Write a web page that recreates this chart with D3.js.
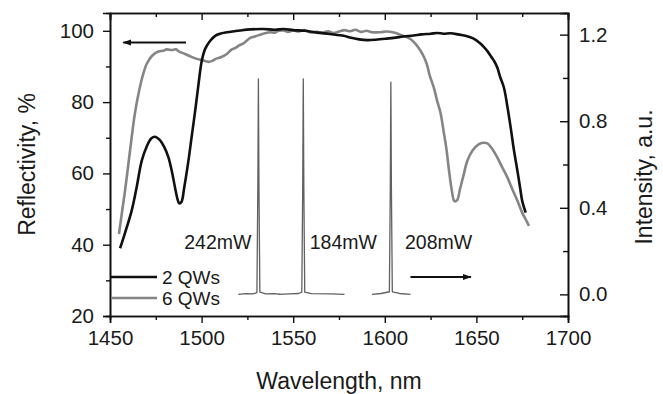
<!DOCTYPE html>
<html>
<head>
<meta charset="utf-8">
<script src="https://cdn.jsdelivr.net/npm/d3@7/dist/d3.min.js"></script>
<style>
  html, body { margin: 0; padding: 0; background: #ffffff; }
  svg { display: block; font-family: "Liberation Sans", Arial, sans-serif; }
</style>
</head>
<body>
<svg id="chart" width="663" height="394"></svg>
<script>
// ---------------- data ----------------
const seriesNames = ["2 QWs", "6 QWs"];
// Reflectivity, % vs wavelength, nm
const refl2QW = [
  [1455.5,39.0],[1458,43],[1461.8,49.5],[1464.5,56],[1467.3,63.5],[1470,67.5],[1472.5,69.8],[1474.6,70.3],
  [1477,69.5],[1479.5,67.5],[1481.9,64.5],[1484,60],[1485.5,56],[1487,52.5],[1487.8,51.6],[1489,52],
  [1490.5,56],[1492.8,63.5],[1494.5,70],[1496.5,77.6],[1498.3,85],[1500.1,91.6],[1502,95],[1504.7,97.2],
  [1507.4,98.6],[1510,99.2],[1513.8,99.6],[1518,99.9],[1521,100.1],[1526.5,100.4],[1533.7,100.5],[1540,100.3],
  [1544.8,100.5],[1550,100.2],[1556,100],[1563,99.5],[1570,99.1],[1577.6,98.6],[1581,98.1],[1586,97.6],
  [1590.4,97.4],[1595,97.5],[1601,97.8],[1606,98.1],[1610,98.4],[1615.7,98.7],[1620,99],[1625,99.2],
  [1628.6,99.4],[1632,99.2],[1636,99.3],[1640,99],[1644,98.6],[1648.5,97.8],[1652,96.5],[1654,95.5],
  [1656,94.3],[1658,92.8],[1659.6,91.6],[1661.4,89.7],[1663,87],[1665,84.1],[1667,78.5],[1668.7,72.9],
  [1670.5,66.5],[1672.4,60.7],[1674,55.5],[1675,52.3],[1676.9,49]
];
const refl6QW = [
  [1454.9,43],[1456.5,49],[1458.2,55.1],[1460,62.5],[1461.8,70],[1463.5,76.5],[1465.5,82.2],[1467.5,86.7],
  [1470,90.7],[1473,93],[1476.4,94.2],[1479,94.4],[1481,94.8],[1483.7,94.6],[1486,94.8],[1488,94.1],
  [1491,93.5],[1494,92.8],[1497,92.2],[1500.1,91.8],[1503.8,91.3],[1505.6,91.5],[1508,92.2],[1510.5,92.6],
  [1513.8,93.5],[1516,94.6],[1518.5,95.2],[1520.5,95.9],[1522.9,96.5],[1525,97.4],[1526.5,98],[1529,98.4],
  [1532,98.9],[1534.5,99.3],[1537.5,99.6],[1540,99.5],[1542,100],[1544.8,100.1],[1547,99.7],[1550,100.1],
  [1553,99.8],[1556,100.2],[1559,99.6],[1563,99.7],[1566,99.5],[1569,99.9],[1572,99.4],[1575,99.8],
  [1578,100.2],[1581,99.9],[1584,100.3],[1587,99.7],[1590,100.0],[1593,99.6],[1597.6,99.6],[1601,99.8],
  [1605,99.5],[1608,99],[1611,98.4],[1614,97.7],[1617,96.2],[1619.5,94.4],[1621.5,92.5],[1623,90.5],
  [1624.5,87.5],[1626.8,84],[1628.5,80.5],[1630.4,77],[1632.2,71.5],[1633.6,67],[1635,61],[1636.5,55.5],
  [1638,52.2],[1639.5,52.5],[1641,55.5],[1643,59.5],[1645,63.5],[1648,66.5],[1651.4,68.2],[1653.5,68.6],
  [1656,68.4],[1658.5,67],[1661.4,64.5],[1664,61.8],[1666.9,58.9],[1669.5,55.7],[1672.4,52.3],[1675,49],
  [1677,47],[1678.7,45.3]
];
// Emission spectra, intensity a.u. vs wavelength, nm
const spec242 = [[1520,0],[1524,0.003],[1528,0.002],[1530.2,0.008],[1530.7,0.5],[1531,0.995],[1531.3,0.5],[1531.8,0.01],[1535,0.002],[1540,0.003],[1543,0]];
const spec184 = [[1542,0],[1548,0.002],[1553,0.004],[1554.7,0.01],[1555.2,0.5],[1555.5,0.995],[1555.8,0.5],[1556.3,0.01],[1560,0.003],[1570,0.002],[1578,0]];
const spec208 = [[1593,0],[1598,0.004],[1602.5,0.012],[1603,0.5],[1603.3,0.98],[1603.6,0.5],[1604.1,0.012],[1608,0.004],[1614,0]];
const powerLabels = ["242mW", "184mW", "208mW"];
const powerLabelPos = [[1490.5, 0.24], [1559, 0.24], [1611, 0.24]]; // [wavelength, intensity]

const xTicks = [1450, 1500, 1550, 1600, 1650, 1700];
const xMinorTicks = [1475, 1525, 1575, 1625, 1675];
const yLeftTicks = [20, 40, 60, 80, 100];
const yLeftMinor = [30, 50, 70, 90];
const yRightTicks = [0.0, 0.4, 0.8, 1.2];
const yRightMinor = [0.2, 0.6, 1.0];

const xTitle = "Wavelength, nm";
const yLeftTitle = "Reflectivity, %";
const yRightTitle = "Intensity, a.u.";

// ---------------- layout ----------------
const W = 663, H = 394;
const m = { left: 110, right: 95, top: 13, bottom: 78 };
const svg = d3.select("#chart");
svg.append("rect").attr("width", W).attr("height", H).attr("fill", "#ffffff");

const x = d3.scaleLinear().domain([1450, 1700]).range([m.left, W - m.right]);
const yL = d3.scaleLinear().domain([20, 105]).range([H - m.bottom, m.top]);
const yR = d3.scaleLinear().domain([-0.1, 1.3]).range([H - m.bottom, m.top]);

const g = svg.append("g");
const fontTick = 20.5;

// axes
function styleAxis(sel) {
  sel.selectAll(".domain").attr("stroke", "#111").attr("stroke-width", 1.6);
  sel.selectAll(".tick line").attr("stroke", "#111").attr("stroke-width", 1.4);
  sel.selectAll("text").attr("fill", "#1a1a1a").style("font-size", fontTick + "px")
    .style("font-family", '"Liberation Sans", Arial, sans-serif');
}
const x0 = H - m.bottom;
// bottom
g.append("g").attr("transform", `translate(0,${x0})`)
  .call(d3.axisBottom(x).tickValues(xTicks).tickFormat(d3.format("d")).tickSizeOuter(0).tickSize(7).tickPadding(7))
  .call(styleAxis);
g.append("g").attr("transform", `translate(0,${x0})`)
  .call(d3.axisBottom(x).tickValues(xMinorTicks).tickFormat("").tickSizeOuter(0).tickSize(4))
  .call(styleAxis);
// top
g.append("g").attr("transform", `translate(0,${m.top})`)
  .call(d3.axisBottom(x).tickValues(xTicks).tickFormat("").tickSizeOuter(0).tickSize(7))
  .call(styleAxis);
g.append("g").attr("transform", `translate(0,${m.top})`)
  .call(d3.axisBottom(x).tickValues(xMinorTicks).tickFormat("").tickSizeOuter(0).tickSize(4))
  .call(styleAxis);
// left
g.append("g").attr("transform", `translate(${m.left},0)`)
  .call(d3.axisLeft(yL).tickValues(yLeftTicks).tickFormat(d3.format("d")).tickSizeOuter(0).tickSize(7).tickPadding(9))
  .call(styleAxis);
g.append("g").attr("transform", `translate(${m.left},0)`)
  .call(d3.axisLeft(yL).tickValues(yLeftMinor).tickFormat("").tickSizeOuter(0).tickSize(4))
  .call(styleAxis);
// right (ticks inward)
const rightAxis = g.append("g").attr("transform", `translate(${W - m.right},0)`)
  .call(d3.axisLeft(yR).tickValues(yRightTicks).tickFormat(d3.format(".1f")).tickSizeOuter(0).tickSize(8))
  .call(styleAxis);
rightAxis.selectAll("text").attr("x", 11).attr("text-anchor", "start");
g.append("g").attr("transform", `translate(${W - m.right},0)`)
  .call(d3.axisLeft(yR).tickValues(yRightMinor).tickFormat("").tickSizeOuter(0).tickSize(5))
  .call(styleAxis);

// axis titles
svg.append("text").attr("x", x(1575)).attr("y", 389).attr("text-anchor", "middle")
  .style("font-size", "23px").attr("fill", "#1a1a1a").text(xTitle);
svg.append("text").attr("transform", `translate(35,${(m.top + H - m.bottom) / 2}) rotate(-90)`)
  .attr("text-anchor", "middle").style("font-size", "23px").attr("fill", "#1a1a1a").text(yLeftTitle);
svg.append("text").attr("transform", `translate(652,177) rotate(-90)`)
  .attr("text-anchor", "middle").style("font-size", "23px").attr("fill", "#1a1a1a").text(yRightTitle);

// spectra
const specLine = d3.line().x(d => x(d[0])).y(d => yR(d[1]));
[spec242, spec184, spec208].forEach(s => {
  g.append("path").datum(s).attr("d", specLine).attr("fill", "none")
    .attr("stroke", "#606060").attr("stroke-width", 1.3).attr("stroke-linejoin", "round");
});

// reflectivity curves
const rLine = d3.line().x(d => x(d[0])).y(d => yL(d[1])).curve(d3.curveCatmullRom.alpha(0.5));
g.append("path").datum(refl6QW).attr("d", rLine).attr("fill", "none")
  .attr("stroke", "#858585").attr("stroke-width", 2.6).attr("stroke-linejoin", "round");
g.append("path").datum(refl2QW).attr("d", rLine).attr("fill", "none")
  .attr("stroke", "#101010").attr("stroke-width", 2.6).attr("stroke-linejoin", "round");

// power labels
powerLabels.forEach((t, i) => {
  svg.append("text").attr("x", x(powerLabelPos[i][0])).attr("y", yR(powerLabelPos[i][1]) + 7)
    .style("font-size", "19.5px").attr("fill", "#1a1a1a").text(t);
});

// arrows
const defs = svg.append("defs");
defs.append("marker").attr("id", "ah").attr("viewBox", "0 0 10 10").attr("refX", 9).attr("refY", 5)
  .attr("markerWidth", 4.5).attr("markerHeight", 4.5).attr("orient", "auto")
  .append("path").attr("d", "M0,1.5 L10,5 L0,8.5 Z").attr("fill", "#111");
// left arrow: points to left axis (reflectivity)
g.append("line").attr("x1", x(1491.5)).attr("x2", x(1457.3)).attr("y1", yL(96.7)).attr("y2", yL(96.7))
  .attr("stroke", "#111").attr("stroke-width", 2).attr("marker-end", "url(#ah)");
// right arrow: points to right axis (intensity)
g.append("line").attr("x1", x(1614)).attr("x2", x(1647)).attr("y1", yR(0.08)).attr("y2", yR(0.08))
  .attr("stroke", "#111").attr("stroke-width", 2).attr("marker-end", "url(#ah)");

// legend
const legColors = ["#101010", "#858585"];
seriesNames.forEach((n, i) => {
  const ly = 277 + i * 21;
  svg.append("line").attr("x1", m.left + 1).attr("x2", m.left + 47).attr("y1", ly).attr("y2", ly)
    .attr("stroke", legColors[i]).attr("stroke-width", 2.6);
  svg.append("text").attr("x", m.left + 52).attr("y", ly + 7).style("font-size", "19px")
    .attr("fill", "#1a1a1a").text(n);
});
</script>
</body>
</html>
